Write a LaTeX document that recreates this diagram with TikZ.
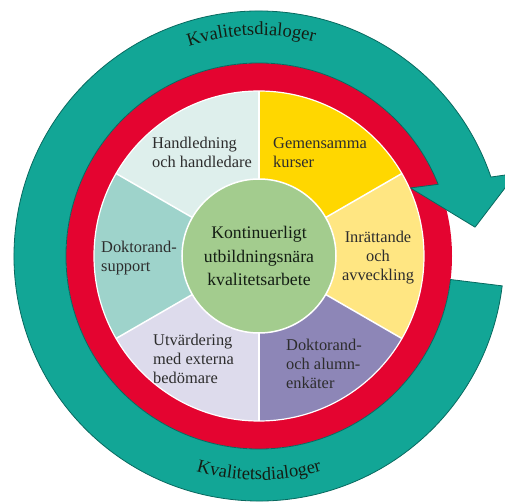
\documentclass[tikz,border=0pt]{standalone}
\usepackage{fontspec}
\setmainfont{Liberation Serif}
\usetikzlibrary{decorations.text}
\definecolor{teal1}{RGB}{18,166,150}
\definecolor{tealdark}{RGB}{8,105,95}
\definecolor{redring}{RGB}{228,4,48}
\definecolor{cgreen}{RGB}{163,204,142}
\definecolor{segA}{RGB}{222,239,236}
\definecolor{segB}{RGB}{255,215,0}
\definecolor{segC}{RGB}{255,230,130}
\definecolor{segD}{RGB}{141,134,183}
\definecolor{segE}{RGB}{221,219,236}
\definecolor{segF}{RGB}{158,211,203}
\definecolor{txt}{RGB}{45,45,45}
\definecolor{txtdark}{RGB}{20,30,20}
\begin{document}
\begin{tikzpicture}[x=1pt,y=1pt,
  lbl/.style={text=txt, font=\fontsize{16.4}{19}\selectfont, inner sep=0pt},
  sepline/.style={draw=white, line width=1.5pt}]
\useasboundingbox (-259,-246) rectangle (246,256);
% red ring
\fill[redring, even odd rule] (0,0) circle (193) (0,0) circle (165);
% teal circular arrow
\draw[fill=teal1, draw=tealdark, line width=0.8pt, line join=round]
  (-7:193) -- (-7:245) arc[start angle=-7, end angle=-341.2, radius=245]
  -- (17.8:270) -- (7.6:218) -- (24.2:166) -- (21.8:193)
  arc[start angle=-338.2, end angle=-7, radius=193] -- cycle;
% sectors
\fill[segA] (0,0) -- (90:165) arc[start angle=90, end angle=150, radius=165] -- cycle;
\fill[segB] (0,0) -- (30:165) arc[start angle=30, end angle=90, radius=165] -- cycle;
\fill[segC] (0,0) -- (-30:165) arc[start angle=-30, end angle=30, radius=165] -- cycle;
\fill[segD] (0,0) -- (-90:165) arc[start angle=-90, end angle=-30, radius=165] -- cycle;
\fill[segE] (0,0) -- (-150:165) arc[start angle=-150, end angle=-90, radius=165] -- cycle;
\fill[segF] (0,0) -- (150:165) arc[start angle=150, end angle=210, radius=165] -- cycle;
\foreach \a in {30,90,150,210,270,330} \draw[sepline] (0,0) -- (\a:165);
\draw[sepline, line width=1.2pt] (0,0) circle (165);
% centre
\node[circle, fill=cgreen, draw=white, line width=1.5pt, minimum size=154pt,
  inner sep=0pt, align=center, text=txtdark,
  font=\fontsize{17.7}{23.3}\selectfont] (core) at (0,0)
  {Kontinuerligt\\utbildningsnära\\kvalitetsarbete};
% segment labels
\node[lbl, anchor=west, align=left] (hand) at (-107,103.5) {Handledning\\och handledare};
\node[lbl, anchor=west, align=left] (gem) at (14,103.5) {Gemensamma\\kurser};
\node[lbl, align=center] (inr) at (119,-2) {Inrättande\\och\\avveckling};
\node[lbl, anchor=west, align=left] (enk) at (27,-108) {Doktorand-\\och alumn-\\enkäter};
\node[lbl, anchor=west, align=left] (utv) at (-106,-103) {Utvärdering\\med externa\\bedömare};
\node[lbl, anchor=west, align=left] (sup) at (-158,-2) {Doktorand-\\support};
% curved labels
\path[decorate, decoration={text along path, text align=center, text color=txtdark,
  text={|\fontsize{18.5}{20}\selectfont|Kvalitetsdialoger}}]
  (122:221) arc[start angle=122, end angle=62, radius=221];
\path[decorate, decoration={text along path, text align=center, text color=txtdark,
  text={|\fontsize{18.5}{20}\selectfont|Kvalitetsdialoger}}]
  (240:224) arc[start angle=240, end angle=300, radius=224];
\end{tikzpicture}
\end{document}
